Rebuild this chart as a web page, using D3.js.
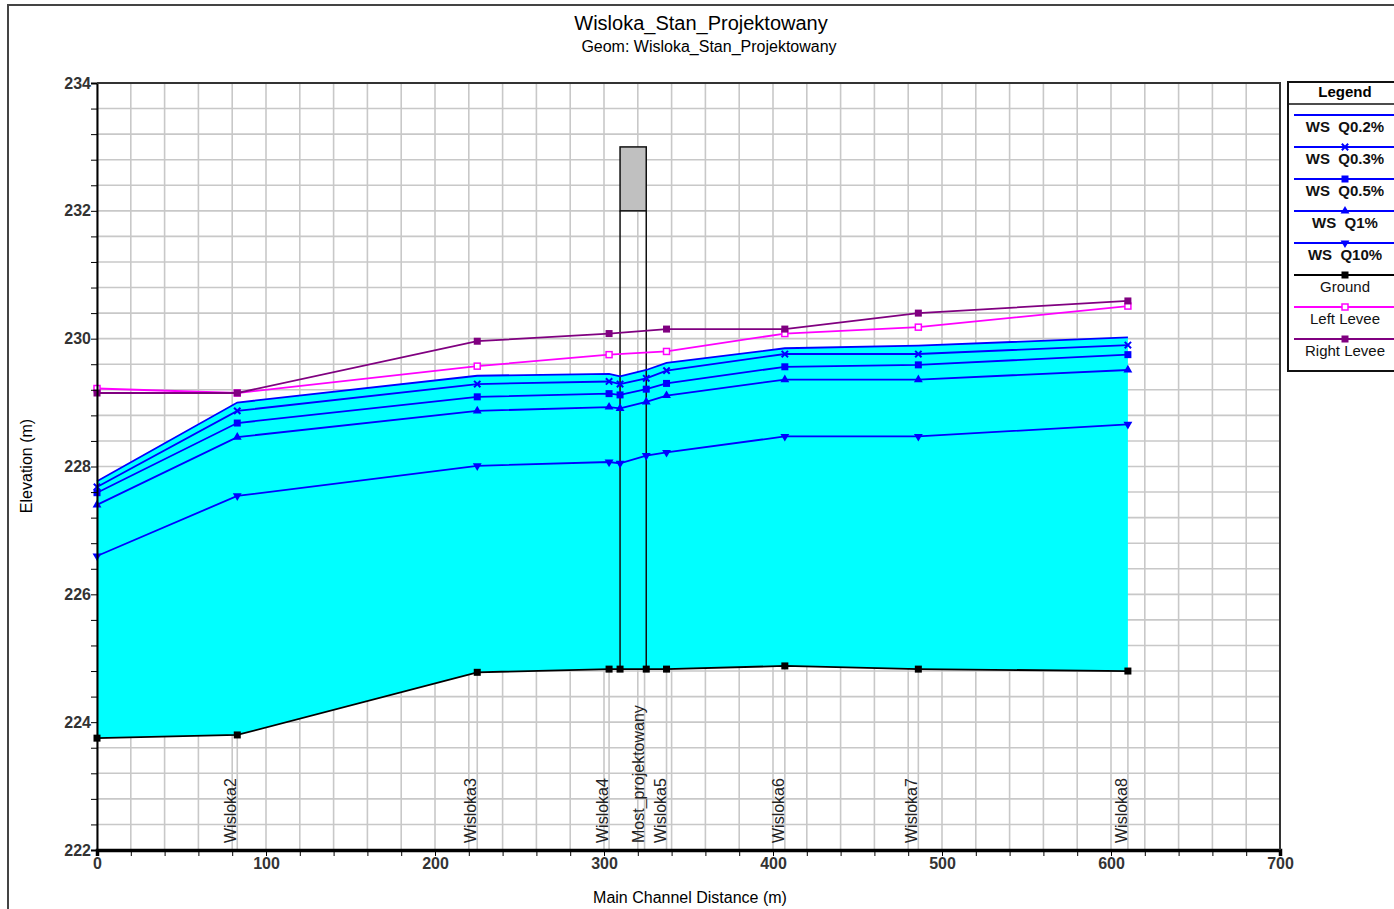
<!DOCTYPE html>
<html>
<head>
<meta charset="utf-8">
<script src="https://cdn.jsdelivr.net/npm/d3@7"></script>
<style>
  body { margin: 0; background: #fff; }
  svg { display: block; font-family: "Liberation Sans", Arial, sans-serif; }
</style>
</head>
<body>
<div id="chart"></div>
<script>
// profile data (main channel distance in m, elevations in m)
var wsStations = [0, 83, 225, 303, 309.5, 325, 337, 407, 486, 610];
var wsQ02  = [227.77, 229.00, 229.42, 229.45, 229.41, 229.51, 229.62, 229.85, 229.89, 230.02];
var wsQ03  = [227.68, 228.87, 229.29, 229.33, 229.29, 229.38, 229.50, 229.76, 229.76, 229.90];
var wsQ05  = [227.59, 228.68, 229.09, 229.14, 229.12, 229.21, 229.30, 229.56, 229.59, 229.75];
var wsQ1   = [227.40, 228.46, 228.87, 228.93, 228.91, 229.01, 229.11, 229.36, 229.36, 229.51];
var wsQ10  = [226.60, 227.54, 228.01, 228.07, 228.05, 228.17, 228.22, 228.47, 228.47, 228.66];
var ground = [223.75, 223.80, 224.78, 224.83, 224.83, 224.83, 224.83, 224.88, 224.83, 224.80];

var leveeStations = [0, 83, 225, 303, 337, 407, 486, 610];
var leftLevee  = [229.22, 229.15, 229.57, 229.75, 229.80, 230.08, 230.18, 230.51];
var rightLevee = [229.15, 229.15, 229.96, 230.08, 230.15, 230.15, 230.40, 230.59];

var bridgeFaces = [309.5, 325];
var bridgeChord = [232, 233]; // low chord, high chord

var labelNames    = ["Wisloka2", "Wisloka3", "Wisloka4", "Most_projektowany", "Wisloka5", "Wisloka6", "Wisloka7", "Wisloka8"];
var labelStations = [83, 225, 303, 324, 337, 407, 486, 610];

var legendNames = ["WS  Q0.2%", "WS  Q0.3%", "WS  Q0.5%", "WS  Q1%", "WS  Q10%", "Ground", "Left Levee", "Right Levee"];

var W = 1394, H = 909;
var margin = {top: 83, right: 114, bottom: 59, left: 97};

var svg = d3.select("#chart").append("svg")
  .attr("width", W)
  .attr("height", H);

var x = d3.scaleLinear().domain([0, 700]).range([margin.left, W - margin.right]);
var y = d3.scaleLinear().domain([222, 234]).range([H - margin.bottom, margin.top]);

// outer frame (cut at right/bottom like the screenshot)
svg.append("path")
  .attr("d", "M8,909 L8,5 L1394,5")
  .attr("fill", "none")
  .attr("stroke", "#444")
  .attr("stroke-width", 2);

// titles
svg.append("text")
  .attr("x", 701).attr("y", 30)
  .attr("text-anchor", "middle")
  .style("font-size", "20px")
  .text("Wisloka_Stan_Projektowany");
svg.append("text")
  .attr("x", 709).attr("y", 52)
  .attr("text-anchor", "middle")
  .style("font-size", "16px")
  .text("Geom: Wisloka_Stan_Projektowany");

// grid
var xGrid = d3.range(0, 701, 20);
var yGrid = d3.range(0, 31).map(function(i) { return 222 + i * 0.4; });

var grid = svg.append("g").attr("class", "grid");
grid.selectAll(".gx").data(xGrid).enter().append("line")
  .attr("x1", function(d) { return x(d); })
  .attr("x2", function(d) { return x(d); })
  .attr("y1", y(222)).attr("y2", y(234))
  .attr("stroke", "#c8c8c8").attr("stroke-width", 1.6);
grid.selectAll(".gy").data(yGrid).enter().append("line")
  .attr("x1", x(0)).attr("x2", x(700))
  .attr("y1", function(d) { return y(d); })
  .attr("y2", function(d) { return y(d); })
  .attr("stroke", "#c8c8c8").attr("stroke-width", 1.6);

// station lines below the ground
grid.selectAll(".st").data(labelStations).enter().append("line")
  .attr("x1", function(d) { return x(d); })
  .attr("x2", function(d) { return x(d); })
  .attr("y1", y(222))
  .attr("y2", function(d) {
    var i = d3.bisectLeft(wsStations, d);
    var g = i < wsStations.length && wsStations[i] === d ? ground[i] : 224.83;
    return y(g);
  })
  .attr("stroke", "#c8c8c8").attr("stroke-width", 1.6);

// water fill between ground and highest water surface
var fillData = wsStations.map(function(s, i) { return {s: s, lo: ground[i], hi: wsQ02[i]}; });
svg.append("path")
  .datum(fillData)
  .attr("fill", "#00ffff")
  .attr("d", d3.area()
    .x(function(d) { return x(d.s); })
    .y0(function(d) { return y(d.lo); })
    .y1(function(d) { return y(d.hi); }));

// bridge
var gi0 = wsStations.indexOf(bridgeFaces[0]);
var gi1 = wsStations.indexOf(bridgeFaces[1]);
svg.append("rect")
  .attr("x", x(bridgeFaces[0]))
  .attr("y", y(bridgeChord[1]))
  .attr("width", x(bridgeFaces[1]) - x(bridgeFaces[0]))
  .attr("height", y(bridgeChord[0]) - y(bridgeChord[1]))
  .attr("fill", "#c0c0c0")
  .attr("stroke", "#111").attr("stroke-width", 1.5);
svg.selectAll(".pier").data([gi0, gi1]).enter().append("line")
  .attr("x1", function(d) { return x(wsStations[d]); })
  .attr("x2", function(d) { return x(wsStations[d]); })
  .attr("y1", y(bridgeChord[0]))
  .attr("y2", function(d) { return y(ground[d]); })
  .attr("stroke", "#111").attr("stroke-width", 1.5);

// series
var series = [
  {name: legendNames[0], xs: wsStations, ys: wsQ02, color: "#0000ff", marker: null},
  {name: legendNames[1], xs: wsStations, ys: wsQ03, color: "#0000ff", marker: "x"},
  {name: legendNames[2], xs: wsStations, ys: wsQ05, color: "#0000ff", marker: "square"},
  {name: legendNames[3], xs: wsStations, ys: wsQ1, color: "#0000ff", marker: "up"},
  {name: legendNames[4], xs: wsStations, ys: wsQ10, color: "#0000ff", marker: "down"},
  {name: legendNames[5], xs: wsStations, ys: ground, color: "#000000", marker: "square"},
  {name: legendNames[6], xs: leveeStations, ys: leftLevee, color: "#ff00ff", marker: "open"},
  {name: legendNames[7], xs: leveeStations, ys: rightLevee, color: "#800080", marker: "square"}
];

var line = d3.line()
  .x(function(d) { return x(d[0]); })
  .y(function(d) { return y(d[1]); });

function drawMarker(g, type, color) {
  if (type === "square") {
    g.append("rect").attr("x", -3.5).attr("y", -3.5).attr("width", 7).attr("height", 7).attr("fill", color);
  } else if (type === "open") {
    g.append("rect").attr("x", -3).attr("y", -3).attr("width", 6).attr("height", 6)
      .attr("fill", "#fff").attr("stroke", color).attr("stroke-width", 1.5);
  } else if (type === "x") {
    g.append("path").attr("d", d3.symbol().type(d3.symbolX).size(28)())
      .attr("fill", "none").attr("stroke", color).attr("stroke-width", 2);
  } else if (type === "up") {
    g.append("path").attr("d", d3.symbol().type(d3.symbolTriangle).size(34)())
      .attr("fill", color);
  } else if (type === "down") {
    g.append("path").attr("d", d3.symbol().type(d3.symbolTriangle).size(34)())
      .attr("transform", "rotate(180)")
      .attr("fill", color);
  }
}

series.forEach(function(sr) {
  var pts = sr.xs.map(function(s, i) { return [s, sr.ys[i]]; });
  svg.append("path")
    .datum(pts)
    .attr("fill", "none")
    .attr("stroke", sr.color)
    .attr("stroke-width", 1.8)
    .attr("d", line);
  if (sr.marker) {
    svg.append("g").selectAll("g").data(pts).enter().append("g")
      .attr("transform", function(d) { return "translate(" + x(d[0]) + "," + y(d[1]) + ")"; })
      .each(function() { drawMarker(d3.select(this), sr.marker, sr.color); });
  }
});

// station labels
svg.selectAll(".slabel").data(labelStations).enter().append("text")
  .attr("transform", function(d) { return "translate(" + (x(d) - 1) + "," + (y(222) - 7) + ") rotate(-90)"; })
  .attr("text-anchor", "start")
  .style("font-size", "16px")
  .attr("fill", "#222")
  .text(function(d, i) { return labelNames[i]; });

// axes
var yAxis = d3.axisLeft(y)
  .tickValues(yGrid)
  .tickSize(6)
  .tickFormat(function(d) { var r = Math.round(d * 10) / 10; return r % 2 === 0 ? r : ""; });
var gy = svg.append("g")
  .attr("transform", "translate(" + x(0) + ",0)")
  .call(yAxis);
gy.select(".domain").attr("stroke", "#000").attr("stroke-width", 2);
gy.selectAll("text").style("font-size", "16px").style("font-weight", "bold").attr("fill", "#333").attr("x", -6);

var xAxis = d3.axisBottom(x)
  .tickValues(xGrid)
  .tickSize(6)
  .tickFormat(function(d) { return d % 100 === 0 ? d : ""; });
var gx = svg.append("g")
  .attr("transform", "translate(0," + y(222) + ")")
  .call(xAxis);
gx.select(".domain").attr("stroke", "#000").attr("stroke-width", 3.5);
gx.selectAll("text").style("font-size", "16px").style("font-weight", "bold").attr("fill", "#333").attr("y", 8);

// top and right frame of plot
svg.append("path")
  .attr("d", "M" + x(0) + "," + y(234) + " L" + x(700) + "," + y(234) + " L" + x(700) + "," + y(222))
  .attr("fill", "none").attr("stroke", "#333").attr("stroke-width", 2);

// axis titles
svg.append("text")
  .attr("x", 690).attr("y", 903)
  .attr("text-anchor", "middle")
  .style("font-size", "16px")
  .text("Main Channel Distance (m)");
svg.append("text")
  .attr("transform", "translate(32,466) rotate(-90)")
  .attr("text-anchor", "middle")
  .style("font-size", "16px")
  .text("Elevation (m)");

// legend
var lg = svg.append("g").attr("transform", "translate(1288,82)");
lg.append("rect").attr("width", 130).attr("height", 289)
  .attr("fill", "#fff").attr("stroke", "#111").attr("stroke-width", 2);
lg.append("text").attr("x", 57).attr("y", 15).attr("text-anchor", "middle")
  .style("font-size", "15px").style("font-weight", "bold").text("Legend");
lg.append("line").attr("x1", 0).attr("x2", 130).attr("y1", 22).attr("y2", 22)
  .attr("stroke", "#111").attr("stroke-width", 1.5);
series.forEach(function(sr, i) {
  var ly = 33 + 32 * i;
  lg.append("line").attr("x1", 6).attr("x2", 130).attr("y1", ly).attr("y2", ly)
    .attr("stroke", sr.color).attr("stroke-width", 1.8);
  if (sr.marker) {
    drawMarker(lg.append("g").attr("transform", "translate(57," + ly + ")"), sr.marker, sr.color);
  }
  lg.append("text").attr("x", 57).attr("y", ly + 17).attr("text-anchor", "middle")
    .style("font-size", "15px").style("font-weight", i < 5 ? "bold" : "normal")
    .attr("fill", "#111")
    .style("white-space", "pre")
    .text(sr.name);
});
</script>
</body>
</html>
